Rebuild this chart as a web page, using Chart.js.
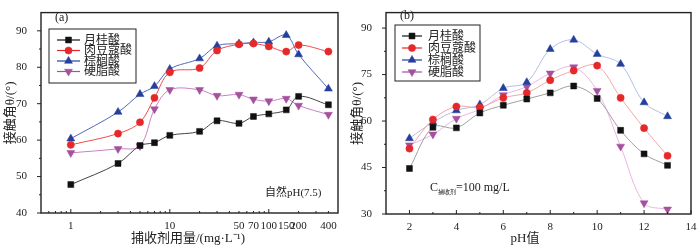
<!DOCTYPE html>
<html>
<head>
<meta charset="utf-8">
<script src="https://cdn.jsdelivr.net/npm/chart.js@4.4.1/dist/chart.umd.min.js"></script>
<style>
  html, body { margin: 0; padding: 0; background: #fff; }
  #wrap { position: relative; width: 700px; height: 247px; }
  canvas { position: absolute; top: 0; }
  #chartA { left: 0; }
  #chartB { left: 350px; }
</style>
</head>
<body>
<div id="wrap">
  <canvas id="chartA" width="350" height="247"></canvas>
  <canvas id="chartB" width="350" height="247"></canvas>
</div>
<script>
//////// data ////////
const acidNames = ['月桂酸', '肉豆蔻酸', '棕榈酸', '硬脂酸'];

// (a) contact angle vs collector dosage (mg/L), natural pH 7.5
const doseX = [1, 3, 5, 7, 10, 20, 30, 50, 70, 100, 150, 200, 400];
const doseLauric    = [47.8, 53.6, 58.5, 59.3, 61.3, 62.4, 65.3, 64.6, 66.5, 67.2, 68.3, 72.0, 69.7];
const doseMyristic  = [58.7, 61.8, 64.9, 71.6, 78.6, 79.8, 84.6, 86.3, 86.5, 85.7, 84.3, 86.1, 84.3];
const dosePalmitic  = [60.4, 67.7, 72.6, 74.8, 79.5, 82.4, 85.9, 86.5, 86.8, 87.0, 88.8, 83.5, 74.1];
const doseStearic   = [56.5, 57.6, 58.4, 68.5, 73.8, 73.8, 72.2, 72.5, 71.2, 70.7, 71.4, 69.5, 67.0];
const doseTicks = [1, 10, 50, 70, 100, 150, 200, 400];
const angleTicksA = [40, 50, 60, 70, 80, 90];

// (b) contact angle vs pH, collector 100 mg/L
const phX = [2, 3, 4, 5, 6, 7, 8, 9, 10, 11, 12, 13];
const phLauric    = [44.7, 58.0, 57.8, 62.6, 65.1, 67.1, 69.1, 71.3, 67.3, 57.0, 49.4, 45.7];
const phMyristic  = [51.1, 60.5, 64.7, 64.4, 67.5, 69.1, 73.2, 76.3, 77.9, 67.5, 57.7, 48.8];
const phPalmitic  = [54.4, 59.6, 63.4, 65.3, 70.6, 72.5, 83.2, 86.2, 81.6, 78.4, 66.0, 61.5];
const phStearic   = [52.2, 55.7, 60.8, 63.8, 68.4, 71.1, 75.4, 77.4, 69.8, 51.8, 33.5, 31.5];
const phTicks = [2, 4, 6, 8, 10, 12, 14];
const angleTicksB = [30, 45, 60, 75, 90];

//////// styles ////////
const SERIF = '"Liberation Serif", "Noto Sans CJK SC", serif';
const markerColors = ['#111111', '#e5282a', '#243f9c', '#a4519e'];
const lineColorsA = ['#444444', '#f04a4a', '#5268b8', '#c982c2'];
const lineColorsB = ['#a0a0a0', '#f5a5a5', '#b2bfe2', '#ebb4e6'];
const pointStyles = ['rect', 'circle', 'triangle', 'triangle'];
const pointRot = [0, 0, 0, 180];
const pointRad = [4.2, 3.6, 4.6, 4.6];

function buildSets(xs, series, lineColors) {
  return series.map((ys, i) => ({
    label: acidNames[i],
    data: xs.map((x, k) => ({ x: x, y: ys[k] })),
    borderColor: lineColors[i],
    backgroundColor: markerColors[i],
    pointBackgroundColor: markerColors[i],
    pointBorderColor: markerColors[i],
    pointBorderWidth: 0.5,
    pointStyle: pointStyles[i],
    pointRotation: pointRot[i],
    pointRadius: pointRad[i],
    borderWidth: 1,
    tension: 0.35,
    fill: false
  }));
}

// frame, tick marks, legend box and notes
function decoPlugin(cfg) {
  return {
    id: 'deco',
    afterDraw(chart) {
      const ctx = chart.ctx, a = chart.chartArea;
      const sx = chart.scales.x, sy = chart.scales.y;
      ctx.save();
      ctx.strokeStyle = '#222';
      ctx.lineWidth = 1;
      ctx.beginPath();
      cfg.xMajor.forEach(v => { const p = sx.getPixelForValue(v); ctx.moveTo(p, a.bottom); ctx.lineTo(p, a.bottom - 4); });
      cfg.xMinor.forEach(v => { const p = sx.getPixelForValue(v); ctx.moveTo(p, a.bottom); ctx.lineTo(p, a.bottom - 2); });
      cfg.yMajor.forEach(v => { const p = sy.getPixelForValue(v); ctx.moveTo(a.left, p); ctx.lineTo(a.left - 4, p); });
      cfg.yMinor.forEach(v => { const p = sy.getPixelForValue(v); ctx.moveTo(a.left, p); ctx.lineTo(a.left - 2, p); });
      ctx.stroke();
      ctx.lineWidth = 1.4;
      ctx.strokeRect(a.left, a.top, a.right - a.left, a.bottom - a.top);

      // legend
      const L = cfg.legend;
      ctx.lineWidth = 1;
      ctx.strokeStyle = '#222';
      ctx.strokeRect(L.x0, L.y0, L.x1 - L.x0, L.y1 - L.y0);
      ctx.font = '12px ' + SERIF;
      ctx.textBaseline = 'middle';
      ctx.textAlign = 'left';
      chart.data.datasets.forEach((ds, i) => {
        const yy = L.rows[i];
        ctx.strokeStyle = markerColors[i];
        ctx.lineWidth = 1.2;
        ctx.beginPath(); ctx.moveTo(L.lx0, yy); ctx.lineTo(L.lx1, yy); ctx.stroke();
        ctx.fillStyle = markerColors[i];
        ctx.strokeStyle = markerColors[i];
        ctx.lineWidth = 0.5;
        Chart.helpers.drawPoint(ctx, { pointStyle: ds.pointStyle, radius: ds.pointRadius, rotation: ds.pointRotation, borderWidth: 0.5 }, (L.lx0 + L.lx1) / 2, yy);
        ctx.fillStyle = '#222';
        ctx.fillText(ds.label, L.tx, yy + 0.5);
      });

      // panel letter
      ctx.fillStyle = '#222';
      ctx.font = '12px ' + SERIF;
      ctx.fillText(cfg.letter.text, cfg.letter.x, cfg.letter.y);

      // axis titles
      ctx.font = '13px ' + SERIF;
      ctx.textAlign = 'center';
      ctx.fillText(cfg.xTitle, cfg.xTitleX, cfg.xTitleY);
      ctx.save();
      ctx.translate(cfg.yTitleX, (a.top + a.bottom) / 2);
      ctx.rotate(-Math.PI / 2);
      ctx.fillText('接触角θ/(°)', 0, 0);
      ctx.restore();

      cfg.note(ctx);
      ctx.restore();
    }
  };
}

function makeChart(id, sets, xScale, yScale, pad, yWidth, xHeight, cfg) {
  return new Chart(document.getElementById(id), {
    type: 'line',
    data: { datasets: sets },
    options: {
      responsive: false,
      animation: false,
      devicePixelRatio: 1,
      layout: { padding: pad },
      plugins: { legend: { display: false }, tooltip: { enabled: false } },
      scales: {
        x: Object.assign({
          grid: { display: false },
          border: { display: false },
          afterFit: s => { s.height = xHeight; }
        }, xScale),
        y: Object.assign({
          grid: { display: false },
          border: { display: false },
          afterFit: s => { s.width = yWidth; }
        }, yScale)
      }
    },
    plugins: [decoPlugin(cfg)]
  });
}

const tickFont = { family: SERIF, size: 11 };

// panel (a)
makeChart('chartA',
  buildSets(doseX, [doseLauric, doseMyristic, dosePalmitic, doseStearic], lineColorsA),
  {
    type: 'logarithmic', min: 0.5, max: 500,
    afterBuildTicks: s => { s.ticks = doseTicks.map(v => ({ value: v })); },
    ticks: { autoSkip: false, maxRotation: 0, padding: -1, color: '#222', font: tickFont, callback: v => String(v) }
  },
  {
    type: 'linear', min: 40, max: 95,
    afterBuildTicks: s => { s.ticks = angleTicksA.map(v => ({ value: v })); },
    ticks: { padding: 6, color: '#222', font: tickFont }
  },
  { left: 0, top: 5, right: 12, bottom: 0 }, 41, 34,
  {
    xMajor: [1, 10, 100],
    xMinor: [0.6, 0.7, 0.8, 0.9, 2, 3, 4, 5, 6, 7, 8, 9, 20, 30, 40, 50, 60, 70, 80, 90, 200, 300, 400],
    yMajor: angleTicksA, yMinor: [45, 55, 65, 75, 85],
    legend: { x0: 49, y0: 29, x1: 136, y1: 83, rows: [40, 50.5, 61, 71.5], lx0: 57, lx1: 80, tx: 84 },
    letter: { text: '(a)', x: 55, y: 18 },
    xTitle: '捕收剂用量/(mg·L⁻¹)', xTitleX: 188, xTitleY: 239,
    yTitleX: 11,
    note: ctx => {
      ctx.textAlign = 'left';
      ctx.font = '11px ' + SERIF;
      ctx.fillText('自然pH(7.5)', 265, 193);
    }
  });

// panel (b)
makeChart('chartB',
  buildSets(phX, [phLauric, phMyristic, phPalmitic, phStearic], lineColorsB),
  {
    type: 'linear', min: 1, max: 14,
    afterBuildTicks: s => { s.ticks = phTicks.map(v => ({ value: v })); },
    ticks: { autoSkip: false, maxRotation: 0, padding: -1, color: '#222', font: tickFont }
  },
  {
    type: 'linear', min: 30, max: 95,
    afterBuildTicks: s => { s.ticks = angleTicksB.map(v => ({ value: v })); },
    ticks: { padding: 6, color: '#222', font: tickFont }
  },
  { left: 0, top: 5, right: 9, bottom: 0 }, 36, 33,
  {
    xMajor: phTicks, xMinor: [3, 5, 7, 9, 11, 13],
    yMajor: angleTicksB, yMinor: [37.5, 52.5, 67.5, 82.5],
    legend: { x0: 45, y0: 25, x1: 130, y1: 81, rows: [36, 48, 60, 72], lx0: 52, lx1: 72, tx: 78 },
    letter: { text: '(b)', x: 50, y: 16 },
    xTitle: 'pH值', xTitleX: 175, xTitleY: 239,
    yTitleX: 8,
    note: ctx => {
      ctx.textAlign = 'left';
      ctx.font = '12px ' + SERIF;
      let x = 80;
      ctx.fillText('C', x, 188);
      x += ctx.measureText('C').width;
      ctx.font = '6px ' + SERIF;
      ctx.fillText('捕收剂', x, 192);
      x += ctx.measureText('捕收剂').width;
      ctx.font = '12px ' + SERIF;
      ctx.fillText('=100 mg/L', x, 188);
    }
  });
</script>
</body>
</html>
